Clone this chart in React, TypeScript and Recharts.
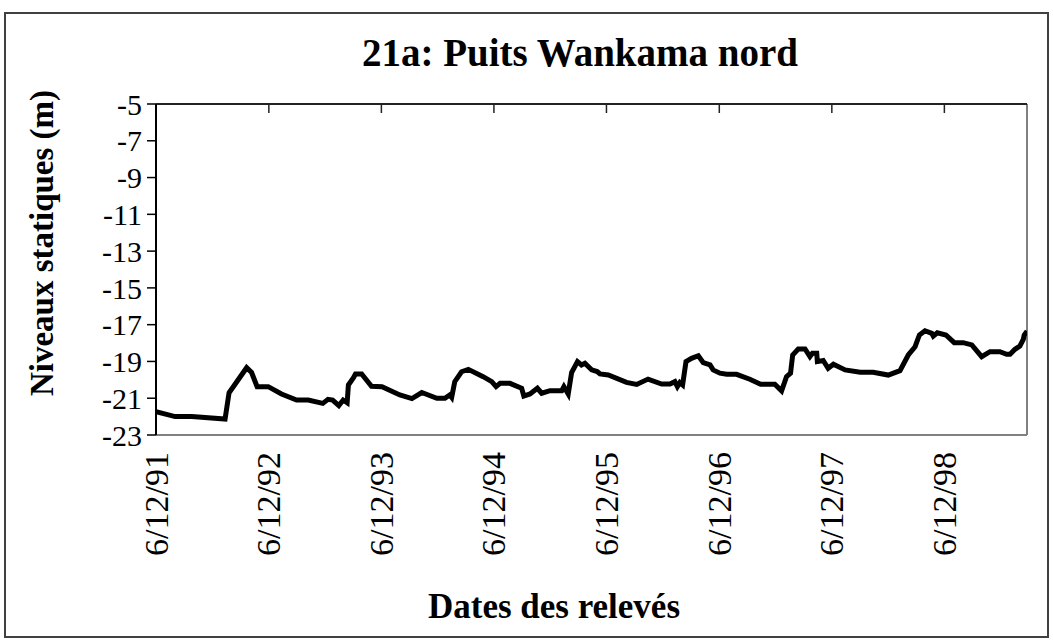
import React from 'react';
import { LineChart, Line, XAxis, YAxis, ReferenceLine } from 'recharts';

// relevés du puits (date, niveau statique en m)
const dates = [
  '1991-12-06', '1992-02-06', '1992-03-31', '1992-07-17', '1992-07-30', '1992-09-25',
  '1992-10-11', '1992-10-29', '1992-12-04', '1993-01-16', '1993-03-06', '1993-04-13',
  '1993-05-30', '1993-06-16', '1993-07-01', '1993-07-21', '1993-08-04', '1993-08-17',
  '1993-08-21', '1993-09-06', '1993-09-13', '1993-10-03', '1993-11-04', '1993-12-08',
  '1994-02-04', '1994-03-15', '1994-04-16', '1994-06-04', '1994-06-30', '1994-07-16',
  '1994-07-22', '1994-08-01', '1994-08-23', '1994-09-14', '1994-10-11', '1994-11-01',
  '1994-11-29', '1994-12-13', '1994-12-26', '1995-01-27', '1995-03-06', '1995-03-13',
  '1995-04-02', '1995-04-26', '1995-05-10', '1995-06-06', '1995-07-14', '1995-07-21',
  '1995-08-04', '1995-08-15', '1995-09-03', '1995-09-16', '1995-09-27', '1995-10-19',
  '1995-11-06', '1995-11-15', '1995-12-12', '1996-02-09', '1996-03-13', '1996-04-19',
  '1996-06-02', '1996-06-29', '1996-07-15', '1996-07-23', '1996-07-31', '1996-08-09',
  '1996-08-20', '1996-09-07', '1996-09-29', '1996-10-15', '1996-11-06', '1996-11-16',
  '1996-12-08', '1996-12-30', '1997-01-31', '1997-03-15', '1997-04-19', '1997-06-04',
  '1997-06-26', '1997-07-12', '1997-07-25', '1997-08-01', '1997-08-19', '1997-09-10',
  '1997-09-26', '1997-10-04', '1997-10-18', '1997-10-20', '1997-11-08', '1997-11-24',
  '1997-12-11', '1998-01-18', '1998-03-08', '1998-04-19', '1998-06-07', '1998-07-15',
  '1998-08-11', '1998-09-02', '1998-09-16', '1998-10-04', '1998-10-26', '1998-10-31',
  '1998-11-13', '1998-12-11', '1999-01-07', '1999-02-05', '1999-03-05', '1999-04-06',
  '1999-05-03', '1999-06-04', '1999-06-26', '1999-07-07', '1999-07-23', '1999-08-08',
  '1999-08-19', '1999-08-22', '1999-08-31',
];

const levels = [
  -21.73, -22.0, -22.0, -22.13, -20.7, -19.34,
  -19.6, -20.37, -20.37, -20.77, -21.1, -21.1,
  -21.28, -21.06, -21.1, -21.4, -21.1, -21.25,
  -20.28, -19.9, -19.68, -19.68, -20.35, -20.37,
  -20.82, -21.02, -20.69, -21.0, -21.0, -20.82,
  -20.95, -20.1, -19.56, -19.43, -19.65, -19.83,
  -20.1, -20.37, -20.19, -20.19, -20.46, -20.88,
  -20.77, -20.46, -20.73, -20.59, -20.59, -20.37,
  -20.77, -19.61, -19.01, -19.19, -19.1, -19.46,
  -19.55, -19.68, -19.74, -20.14, -20.25, -19.96,
  -20.23, -20.23, -20.1, -20.37, -20.15, -20.28,
  -19.01, -18.83, -18.69, -19.07, -19.19, -19.46,
  -19.64, -19.7, -19.7, -19.97, -20.24, -20.24,
  -20.6, -19.83, -19.64, -18.65, -18.32, -18.32,
  -18.74, -18.56, -18.56, -19.01, -18.95, -19.37,
  -19.15, -19.46, -19.59, -19.59, -19.74, -19.5,
  -18.65, -18.2, -17.56, -17.33, -17.47, -17.62,
  -17.44, -17.56, -17.98, -17.98, -18.1, -18.74,
  -18.47, -18.47, -18.61, -18.61, -18.34, -18.16,
  -17.8, -17.56, -17.35,
];

const tickDates = [
  '1991-12-06', '1992-12-06', '1993-12-06', '1994-12-06',
  '1995-12-06', '1996-12-06', '1997-12-06', '1998-12-06',
];
const tickLabels = ['6/12/91', '6/12/92', '6/12/93', '6/12/94', '6/12/95', '6/12/96', '6/12/97', '6/12/98'];
const yTicks = [-5, -7, -9, -11, -13, -15, -17, -19, -21, -23];
const xStart = '1991-12-06';
const xEnd = '1999-08-31';

const toTime = (s: string) => {
  const [y, m, d] = s.split('-').map(Number);
  return Date.UTC(y, m - 1, d);
};

const data = dates.map((d, i) => ({ t: toTime(d), level: levels[i] }));
const xTicks = tickDates.map(toTime);
const domain = [toTime(xStart), toTime(xEnd)];

const FONT = '"Liberation Serif", "Times New Roman", serif';

const DateTick = (props: any) => {
  const { x, y, payload } = props;
  const i = xTicks.indexOf(payload.value);
  return (
    <text
      transform={`translate(${x},${y + 17}) rotate(-90)`}
      textAnchor="end"
      dominantBaseline="central"
      fontFamily={FONT}
      style={{ fontFamily: FONT, fontSize: 34 }}
      fill="#000"
    >
      {tickLabels[i]}
    </text>
  );
};

export default function App() {
  return (
    <div
      style={{
        position: 'absolute', left: 0, top: 0, width: 1053, height: 643,
        background: '#fff', fontFamily: FONT,
      }}
    >
      <div
        style={{
          position: 'absolute', left: 4, top: 12, width: 1041, height: 622,
          border: '2px solid #404040',
        }}
      />
      <div
        style={{
          position: 'absolute', left: 180, width: 800, top: 29, textAlign: 'center',
          fontWeight: 'bold', fontSize: 39, lineHeight: '48px',
        }}
      >
        21a: Puits Wankama nord
      </div>
      <div
        style={{
          position: 'absolute', left: 42, top: 243, width: 400, marginLeft: -200, marginTop: -22,
          transform: 'rotate(-90deg)', textAlign: 'center',
          fontWeight: 'bold', fontSize: 33, lineHeight: '44px',
        }}
      >
        Niveaux statiques (m)
      </div>
      <div
        style={{
          position: 'absolute', left: 154, width: 800, top: 587, textAlign: 'center',
          fontWeight: 'bold', fontSize: 35, lineHeight: '40px',
        }}
      >
        Dates des relevés
      </div>
      <LineChart
        width={1053}
        height={643}
        data={data}
        margin={{ top: 104, right: 26, bottom: 0, left: 56 }}
        style={{ position: 'absolute', left: 0, top: 0, fontFamily: FONT }}
      >
        <XAxis
          dataKey="t"
          type="number"
          domain={domain}
          ticks={xTicks}
          allowDataOverflow
          height={208}
          axisLine={{ stroke: '#808080', strokeWidth: 2 }}
          tickLine={false}
          tickSize={0}
          tickMargin={0}
          tick={<DateTick />}
          interval={0}
        />
        <XAxis
          xAxisId="top"
          dataKey="t"
          type="number"
          orientation="top"
          domain={domain}
          ticks={xTicks}
          allowDataOverflow
          mirror
          axisLine={{ stroke: '#222', strokeWidth: 2 }}
          tickLine={{ stroke: '#222', strokeWidth: 1.5 }}
          tickSize={9}
          tick={() => <g />}
          interval={0}
        />
        <YAxis
          type="number"
          domain={[-23, -5]}
          ticks={yTicks}
          interval={0}
          width={100}
          axisLine={{ stroke: '#000', strokeWidth: 2 }}
          tickLine={{ stroke: '#000', strokeWidth: 1.5 }}
          tickSize={9}
          tickMargin={5}
          tick={{ fill: '#000', fontSize: 30, fontFamily: FONT, style: { fontFamily: FONT } }}
        />
        <ReferenceLine x={domain[1]} stroke="#808080" strokeWidth={2} />
        <Line
          type="linear"
          dataKey="level"
          stroke="#000"
          strokeWidth={5}
          dot={false}
          isAnimationActive={false}
        />
      </LineChart>
    </div>
  );
}
